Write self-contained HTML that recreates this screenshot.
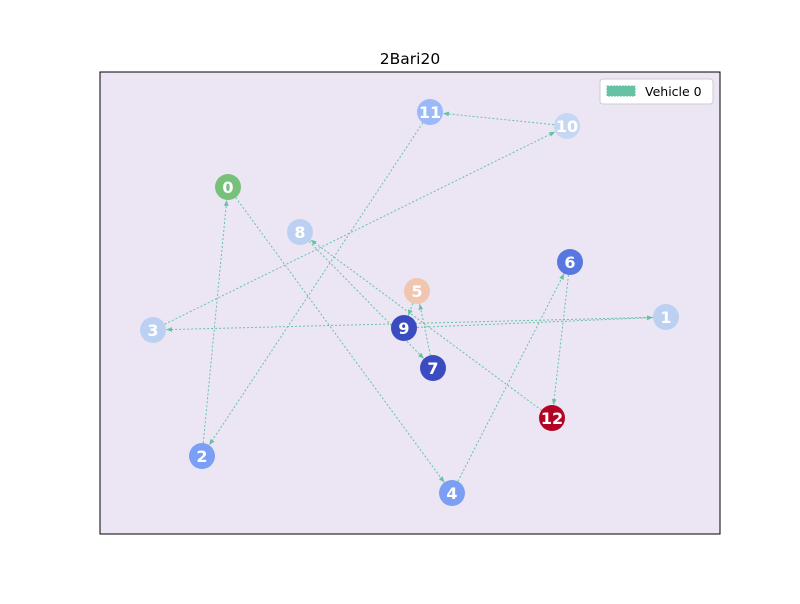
<!DOCTYPE html>
<html><head><meta charset="utf-8"><style>
body{margin:0;background:#fff;width:800px;height:600px;overflow:hidden;font-family:"DejaVu Sans","Liberation Sans",sans-serif}
</style></head><body>
<svg id="chart" width="800" height="600" xmlns="http://www.w3.org/2000/svg" font-family="DejaVu Sans, Liberation Sans, sans-serif">
<defs><marker id="ah" viewBox="0 0 10 10" refX="10" refY="5" markerWidth="6" markerHeight="6" orient="auto-start-reverse"><path d="M0,1 L10,5 L0,9 z" fill="#66c2a5"/></marker></defs>
<rect x="100" y="72" width="620" height="462" fill="#ece6f4" stroke="#000" stroke-width="1"/>
<text x="410" y="64" text-anchor="middle" font-size="15.5">2Bari20</text>
<g id="edges"></g><g id="nodes"></g>
<g>
<rect x="600" y="79" width="113" height="25" rx="3" fill="#fff" stroke="#ccc"/>
<rect x="607" y="86" width="28" height="10" fill="#66c2a5" stroke="#66c2a5" stroke-dasharray="2,1"/>
<text x="645" y="96" font-size="12.5">Vehicle 0</text>
</g>
</svg>
<script>
const nodeIds=[0,1,2,3,4,5,6,7,8,9,10,11,12];
const nodeX=[128,566,102,53,352,317,470,333,200,304,467,330,452];
const nodeY=[347,217,78,204,41,243,272,166,302,206,408,422,116];
const nodeColors=["#77c17a","#bcd0f2","#7b9ff5","#bcd0f2","#7b9ff5","#f0c6b0","#5877e0","#3b4cc0","#bcd0f2","#3b4cc0","#c5d7f2","#9ab8fa","#b40426"];
const route=[0,4,6,12,8,7,5,9,1,3,10,11,2,0];
const sx=v=>100+v, sy=v=>534-v;
const NS="http://www.w3.org/2000/svg";
const eg=document.getElementById('edges'), ng=document.getElementById('nodes');
const R=13;
for(let i=0;i<route.length-1;i++){
  const a=route[i],b=route[i+1];
  const x1=sx(nodeX[a]),y1=sy(nodeY[a]),x2=sx(nodeX[b]),y2=sy(nodeY[b]);
  const d=Math.hypot(x2-x1,y2-y1),ux=(x2-x1)/d,uy=(y2-y1)/d;
  const l=document.createElementNS(NS,'line');
  
  
  l.setAttribute('x1',x1+ux*R);l.setAttribute('y1',y1+uy*R);
  l.setAttribute('x2',x2-ux*R);l.setAttribute('y2',y2-uy*R);
  l.setAttribute('stroke','#66c2a5');l.setAttribute('stroke-width','1');
  l.setAttribute('stroke-dasharray','2,2');l.setAttribute('marker-end','url(#ah)');
  eg.appendChild(l);
}
nodeIds.forEach((id,i)=>{
  const g=document.createElementNS(NS,'g');
  
  
  const c=document.createElementNS(NS,'circle');
  c.setAttribute('cx',sx(nodeX[i]));c.setAttribute('cy',sy(nodeY[i]));c.setAttribute('r',R);
  c.setAttribute('fill',nodeColors[i]);
  const t=document.createElementNS(NS,'text');
  t.setAttribute('x',sx(nodeX[i]));t.setAttribute('y',sy(nodeY[i])+6);
  t.setAttribute('text-anchor','middle');t.setAttribute('font-size','16');
  t.setAttribute('font-weight','bold');t.setAttribute('fill','#fff');
  t.textContent=id;
  g.appendChild(c);g.appendChild(t);ng.appendChild(g);
});
</script>
</body></html>
